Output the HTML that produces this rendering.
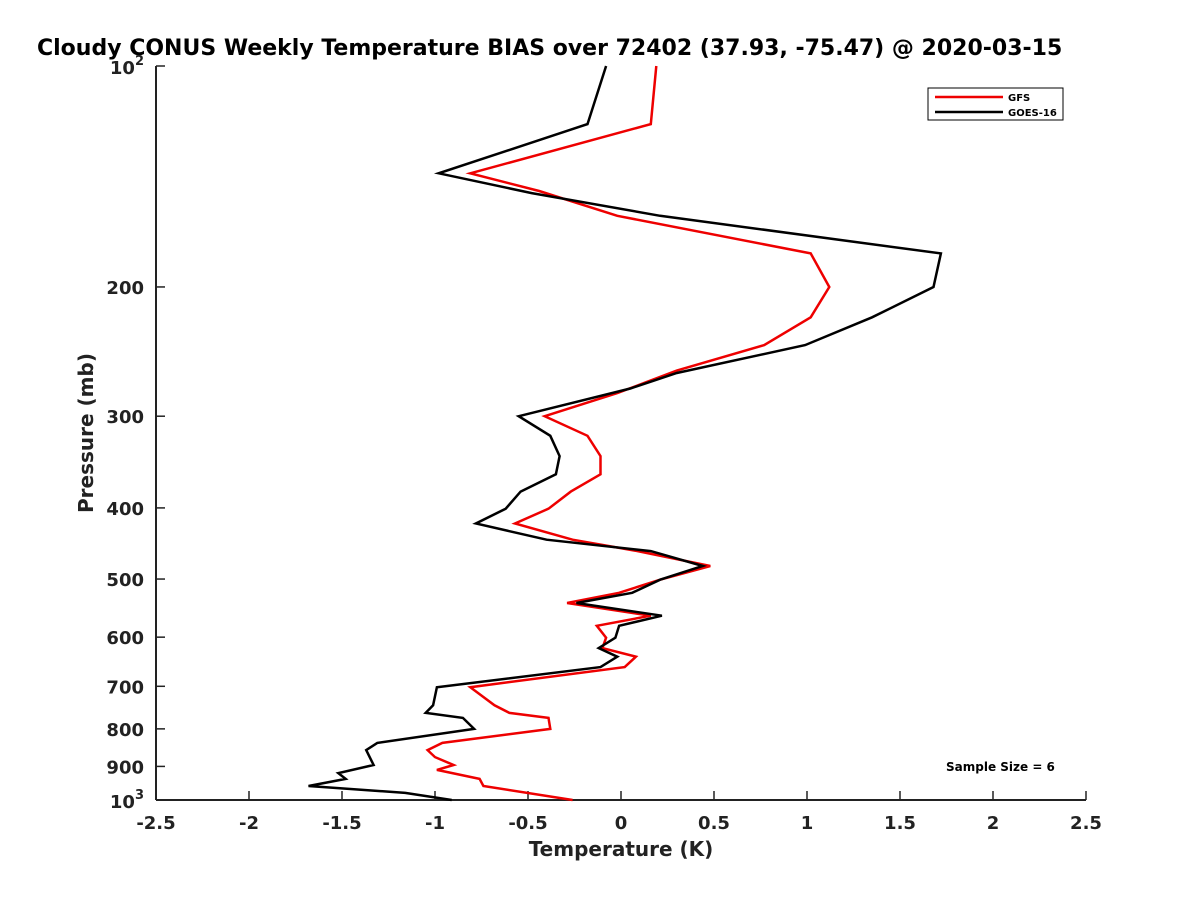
<!DOCTYPE html>
<html><head><meta charset="utf-8"><style>
body{margin:0;background:#fff;}
svg{font-family:"DejaVu Sans","Liberation Sans",sans-serif;}
</style></head><body>
<svg id="chart" width="1200" height="900" viewBox="0 0 1200 900" xmlns="http://www.w3.org/2000/svg">
<rect width="1200" height="900" fill="#fff"/>
<text x="37" y="55" text-anchor="start" font-size="22" font-weight="bold" fill="#000">Cloudy CONUS Weekly Temperature BIAS over 72402 (37.93, -75.47) @ 2020-03-15</text>
<g id="axes"></g>
<g id="series"></g>
<text x="621" y="856" text-anchor="middle" font-size="20" font-weight="bold" fill="#222">Temperature (K)</text>
<text transform="translate(93,433) rotate(-90)" text-anchor="middle" font-size="20" font-weight="bold" fill="#222">Pressure (mb)</text>
<g>
<rect x="928" y="88" width="135" height="32" fill="#fff" stroke="#000" stroke-width="1"/>
<line x1="935" y1="97" x2="1003" y2="97" stroke="#e00" stroke-width="2.5"/>
<text x="1008" y="101" font-size="10" font-weight="bold">GFS</text>
<line x1="935" y1="112" x2="1003" y2="112" stroke="#000" stroke-width="2.5"/>
<text x="1008" y="116" font-size="10" font-weight="bold">GOES-16</text>
</g>
<text x="946" y="771" font-size="12" font-weight="bold">Sample Size = 6</text>
</svg>
<script>
const xTicks = [-2.5,-2,-1.5,-1,-0.5,0,0.5,1,1.5,2,2.5];
const xTickLabels = ["-2.5","-2","-1.5","-1","-0.5","0","0.5","1","1.5","2","2.5"];
const yTicks = [200,300,400,500,600,700,800,900];
const gfsPressure = [100,120,140,148,160,180,200,220,240,260,279,300,319,340,360,380,401,420,442,458,480,501,522,539,561,579,601,621,638,659,702,743,761,773,800,836,855,874,896,910,936,957,1000];
const gfsBias = [0.19,0.16,-0.81,-0.44,-0.02,1.02,1.12,1.02,0.77,0.30,-0.02,-0.41,-0.18,-0.11,-0.11,-0.27,-0.39,-0.57,-0.26,0.09,0.48,0.21,-0.01,-0.29,0.16,-0.13,-0.08,-0.10,0.08,0.02,-0.81,-0.68,-0.60,-0.39,-0.38,-0.96,-1.04,-1.00,-0.90,-0.99,-0.76,-0.74,-0.26];
const goesPressure = [100,120,140,149,160,180,200,220,240,262,275,300,319,340,360,380,401,420,442,458,480,501,522,539,561,579,601,621,638,659,702,743,761,773,800,836,855,896,919,936,957,978,1000];
const goesBias = [-0.08,-0.18,-0.98,-0.48,0.21,1.72,1.68,1.35,0.99,0.30,0.05,-0.55,-0.38,-0.33,-0.35,-0.54,-0.62,-0.78,-0.40,0.16,0.44,0.21,0.06,-0.24,0.22,-0.01,-0.03,-0.12,-0.02,-0.11,-0.99,-1.01,-1.05,-0.85,-0.79,-1.31,-1.37,-1.33,-1.52,-1.48,-1.68,-1.16,-0.91];

const X0=156,X1=1086,Y0=66,Y1=800;
const xs=v=>X0+(v+2.5)/5*(X1-X0);
const ys=p=>Y0+Math.log10(p/100)*(Y1-Y0);
const NS="http://www.w3.org/2000/svg";
const axes=document.getElementById('axes');
function mk(tag,attrs,parent){const e=document.createElementNS(NS,tag);for(const k in attrs)e.setAttribute(k,attrs[k]);parent.appendChild(e);return e;}
const yl=mk('line',{x1:X0,y1:Y0,x2:X0,y2:Y1,stroke:'#222','stroke-width':2},axes);


const xl=mk('line',{x1:X0,y1:Y1,x2:X1,y2:Y1,stroke:'#222','stroke-width':2},axes);


xTicks.forEach((v,i)=>{
  const x=xs(v);
  const t=mk('line',{x1:x,y1:Y1,x2:x,y2:Y1-9,stroke:'#222','stroke-width':1.5},axes);
  
  
  const l=mk('text',{x:x,y:Y1+29,'text-anchor':'middle','font-size':18,'font-weight':'bold',fill:'#222'},axes);
  l.textContent=xTickLabels[i];
  
  
});
[100].concat(yTicks,[1000]).forEach(p=>{
  const y=ys(p);
  const t=mk('line',{x1:X0,y1:y,x2:X0+9,y2:y,stroke:'#222','stroke-width':1.5},axes);
  
  
});
yTicks.forEach(p=>{
  const l=mk('text',{x:X0-12,y:ys(p)+7,'text-anchor':'end','font-size':18,'font-weight':'bold',fill:'#222'},axes);
  l.textContent=String(p);
  
  
});
[[100,'2'],[1000,'3']].forEach(([p,e])=>{
  const l=mk('text',{x:X0-12,y:ys(p)+8,'text-anchor':'end','font-size':18,'font-weight':'bold',fill:'#222'},axes);
  l.textContent='10';
  const s=mk('tspan',{dy:-9,'font-size':13},l);
  s.textContent=e;
  
  
});
const series=document.getElementById('series');
function line(P,T,color,name){
  const pts=P.map((p,i)=>xs(T[i]).toFixed(1)+','+ys(p).toFixed(1)).join(' ');
  const e=mk('polyline',{points:pts,fill:'none',stroke:color,'stroke-width':2.5,'stroke-linejoin':'miter'},series);
  
  
}
line(gfsPressure,gfsBias,'#e00','gfs-line');
line(goesPressure,goesBias,'#000','goes16-line');
</script>
</body></html>
